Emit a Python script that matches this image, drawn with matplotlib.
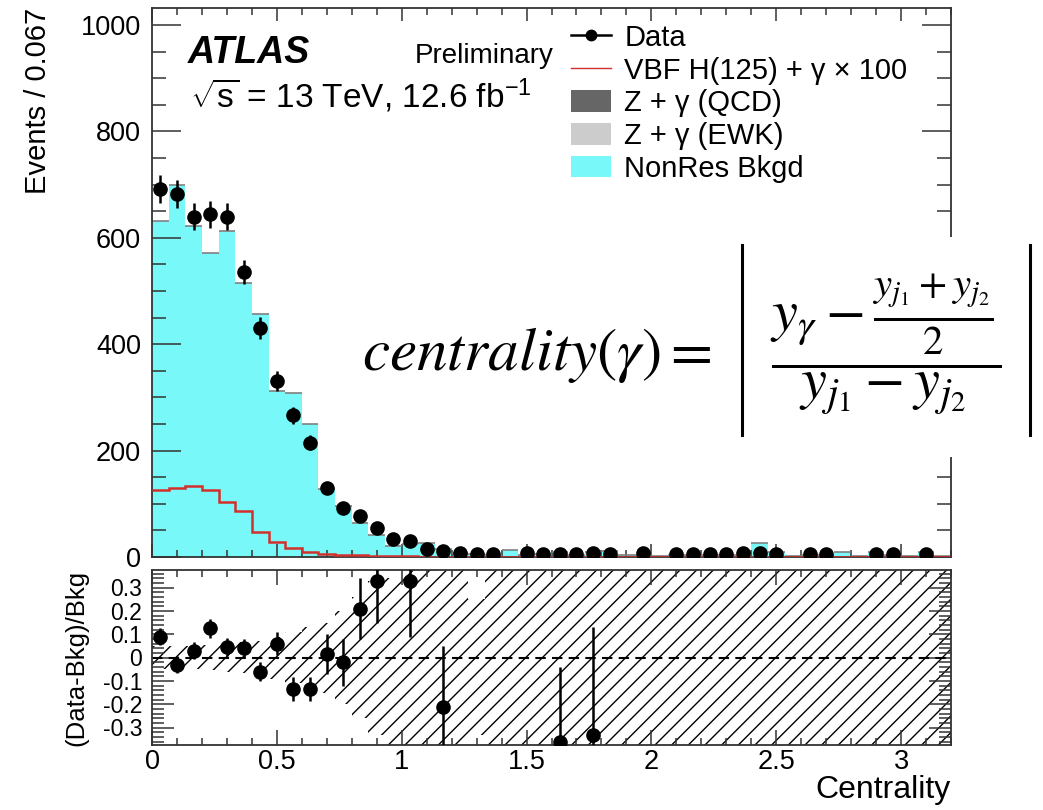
import matplotlib.pyplot as plt
import numpy as np
from matplotlib.lines import Line2D
from matplotlib.patches import Patch, Rectangle
from matplotlib.ticker import MultipleLocator, FuncFormatter

plt.rcParams['font.family'] = ['Liberation Sans', 'DejaVu Sans']
plt.rcParams['mathtext.fontset'] = 'custom'
plt.rcParams['mathtext.rm'] = 'Liberation Sans'
plt.rcParams['mathtext.it'] = 'Liberation Sans:italic'
plt.rcParams['mathtext.bf'] = 'Liberation Sans:bold'
plt.rcParams['axes.unicode_minus'] = False
plt.rcParams['hatch.linewidth'] = 1.0

# 48 bins of width 0.067 between 0 and 3.2
edges = np.linspace(0, 3.2, 49)

data = [691, 682, 640, 644, 640, 536, 430, 331, 266, 215,
        130, 93, 78, 55, 33, 30, 15, 12, 7, 6,
        6, 0, 7, 6, 6, 6, 7, 6, 0, 7,
        0, 6, 6, 6, 6, 7, 7, 5, 0, 6,
        6, 0, 0, 6, 6, 0, 6, 0]
nonres = [632, 700, 622, 571, 613, 516, 456, 312, 308, 250,
          128, 95, 64, 41, 21, 24, 27, 15, 8, 5,
          4, 14, 4, 5, 9, 4, 10, 12, 3, 3,
          2, 3, 4, 3, 4, 3, 26, 10, 2, 3,
          3, 10, 2, 10, 3, 2, 10, 2]
signal_x100 = [126, 129, 133, 126, 104, 87, 47, 28, 16, 10,
               6, 4, 3, 2, 1, 1, 0.5, 0.5] + [0.3] * 30

nan = np.nan
ratio = [0.09, -0.03, 0.03, 0.125, 0.045, 0.04, -0.06, 0.06, -0.135, -0.135,
         0.015, -0.02, 0.21, 0.33, nan, 0.33, nan, -0.21, nan, nan,
         nan, nan, nan, nan, -0.36, nan, -0.33] + [nan] * 21
ratio_err = [0.035, 0.035, 0.035, 0.04, 0.04, 0.04, 0.04, 0.05, 0.05, 0.05,
             0.085, 0.1, 0.13, 0.18, nan, 0.24, nan, 0.26, nan, nan,
             nan, nan, nan, nan, 0.32, nan, 0.46] + [nan] * 21
band_hi = [0.05, 0.05, 0.05, 0.055, 0.06, 0.065, 0.07, 0.09, 0.11, 0.13,
           0.15, 0.2, 0.26, 0.33, 0.34, 1, 1, 1, 1, 0.25] + [1] * 28
band_lo = [0.05, 0.05, 0.05, 0.055, 0.06, 0.065, 0.07, 0.09, 0.11, 0.13,
           0.15, 0.2, 0.26, 0.33, 1, 1, 1, 1, 1, 0.33] + [1] * 28

cyan = '#78f8f8'
red = '#d2302c'
frame = '#333333'

centers = 0.5 * (edges[:-1] + edges[1:])
width = edges[1] - edges[0]
data = np.array(data, dtype=float)
has = data > 0

fig = plt.figure(figsize=(10.43, 8.10), dpi=100)
W, H = 1043, 810
ax = fig.add_axes([152 / W, (H - 557) / H, (951 - 152) / W, (557 - 8) / H])
ax2 = fig.add_axes([152 / W, (H - 745) / H, (951 - 152) / W, (745 - 570) / H])

# top panel
ax.stairs(nonres, edges, fill=True, color=cyan, zorder=1)
ax.hlines(nonres, edges[:-1], edges[1:], color='#808080', lw=1.2, zorder=2)
ax.stairs(signal_x100, edges, baseline=None, color=red, lw=1.8, zorder=3)
ax.errorbar(centers[has], data[has], yerr=np.sqrt(data[has]), fmt='o', color='k',
            ms=9.5, elinewidth=1.8, capsize=0, zorder=4)
ax.set_xlim(0, 3.2)
ax.set_ylim(0, 1032)
ax.yaxis.set_major_locator(MultipleLocator(200))
ax.yaxis.set_minor_locator(MultipleLocator(50))
ax.xaxis.set_major_locator(MultipleLocator(0.5))
ax.xaxis.set_minor_locator(MultipleLocator(0.1))
ax.tick_params(which='both', direction='in', top=True, right=True, labelbottom=False,
               width=1.1, color=frame, labelsize=19.5, pad=8)
ax.tick_params(axis='y', which='major', length=21)
ax.tick_params(axis='y', which='minor', length=10)
ax.tick_params(axis='x', which='major', length=9.5)
ax.tick_params(axis='x', which='minor', length=5)
ax.set_ylabel('Events / 0.067', fontsize=21, loc='top')
ax.yaxis.set_label_coords(-0.125, 1.0)

# ratio panel
ax2.bar(centers, np.array(band_hi) + np.array(band_lo), bottom=-np.array(band_lo),
        width=width, fill=False, hatch='//', edgecolor='k', linewidth=0, zorder=1)
ax2.axhline(0, color='k', ls=(0, (5, 3)), lw=1.5, zorder=2)
ax2.errorbar(centers, ratio, yerr=ratio_err, fmt='o', color='k', ms=9.5,
             elinewidth=1.8, capsize=0, zorder=3)
ax2.set_xlim(0, 3.2)
ax2.set_ylim(-0.375, 0.375)
ax2.yaxis.set_major_locator(MultipleLocator(0.1))
ax2.yaxis.set_minor_locator(MultipleLocator(0.02))
ax2.xaxis.set_major_locator(MultipleLocator(0.5))
ax2.xaxis.set_minor_locator(MultipleLocator(0.1))
ax2.yaxis.set_major_formatter(FuncFormatter(lambda v, p: '0' if abs(v) < 1e-9 else f'{v:.1f}'))
ax2.xaxis.set_major_formatter(FuncFormatter(lambda v, p: f'{v:g}'))
ax2.tick_params(which='both', direction='in', top=True, right=True,
                width=1.1, color=frame)
ax2.tick_params(axis='y', which='major', length=16, labelsize=16.5, pad=7)
ax2.tick_params(axis='y', which='minor', length=8.5)
ax2.tick_params(axis='x', which='major', length=11, labelsize=19.5, pad=3)
ax2.tick_params(axis='x', which='minor', length=5)
ax2.set_ylabel('(Data-Bkg)/Bkg', fontsize=18.5)
ax2.yaxis.set_label_coords(-0.08, 0.5)
ax2.set_xlabel('Centrality', fontsize=23, loc='right')
ax2.xaxis.set_label_coords(1.0, -0.172)

for a in (ax, ax2):
    for s in a.spines.values():
        s.set_color(frame)
        s.set_linewidth(1.3)

# labels
fig.text(188 / W, 1 - 63 / H, 'ATLAS', fontsize=27, fontweight='bold',
         fontstyle='italic', va='baseline')
fig.text(415 / W, 1 - 63 / H, 'Preliminary', fontsize=20, va='baseline')
fig.text(190 / W, 1 - 108 / H, r'$\sqrt{\mathrm{s}}$ = 13 TeV, 12.6 fb$^{\mathrm{-1}}$',
         fontsize=24, va='baseline')

handles = [
    Line2D([], [], color='k', marker='o', lw=1.8, ms=7.5),
    Line2D([], [], color=red, lw=1.0),
    Patch(facecolor='#666666', edgecolor='none'),
    Patch(facecolor='#cccccc', edgecolor='none'),
    Patch(facecolor=cyan, edgecolor='none'),
]
labels = ['Data', 'VBF H(125) + γ × 100', 'Z + γ (QCD)', 'Z + γ (EWK)', 'NonRes Bkgd']
fig.legend(handles, labels, loc='upper left', bbox_to_anchor=(571 / W, 1 - 24 / H),
           frameon=False, fontsize=21, handlelength=1.38, handleheight=0.78,
           handletextpad=0.45, labelspacing=0.16, borderpad=0, borderaxespad=0)

# centrality definition box
fig.add_artist(Rectangle((338 / W, 1 - 457 / H), (W - 338) / W, 220 / H,
                         transform=fig.transFigure, facecolor='white',
                         edgecolor='none', zorder=5))
fig.text(712 / W, 1 - 370 / H, r'$centrality(\gamma) =$',
         fontsize=44, math_fontfamily='stix', ha='right', va='baseline', zorder=6)
fig.text(886 / W, 1 - 344 / H,
         r'$\dfrac{y_\gamma - \frac{y_{j_1}+y_{j_2}}{2}}{y_{j_1} - y_{j_2}}$',
         fontsize=42, math_fontfamily='stix', ha='center', va='center', zorder=6)
for xb in (742, 1030):
    fig.add_artist(Line2D([xb / W, xb / W], [1 - 245 / H, 1 - 435 / H], color='k',
                          lw=2.2, transform=fig.transFigure, zorder=6))

fig.savefig('out.png', dpi=100)
